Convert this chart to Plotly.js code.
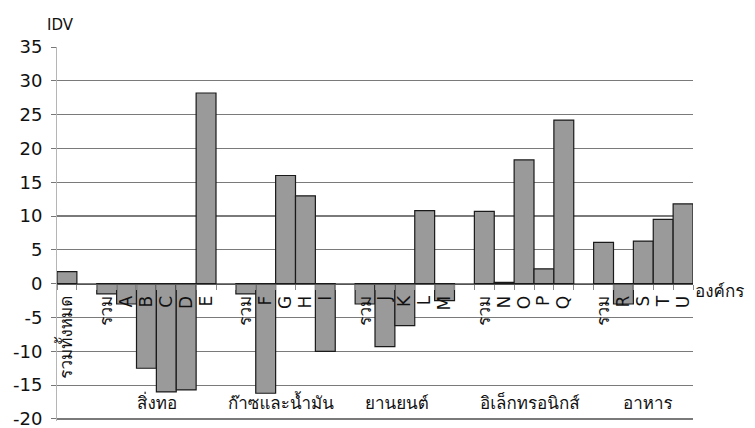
<!DOCTYPE html>
<html><head><meta charset="utf-8">
<script src="https://cdn.plot.ly/plotly-3.0.1.min.js"></script>
<style>body{margin:0;background:#fff}#c{width:755px;height:428px}</style>
</head><body><div id="c"></div>
<script>
const categories = ["รวมทั้งหมด","","รวม","A","B","C","D","E","","รวม","F","G","H","I","","รวม","J","K","L","M","","รวม","N","O","P","Q","","รวม","R","S","T","U"];
const idv = [1.8,null,-1.5,-3,-12.5,-16,-15.7,28.2,null,-1.5,-16.2,16,13,-10,null,-3,-9.3,-6.2,10.8,-2.5,null,10.7,0.2,18.3,2.2,24.2,null,6.1,-3,6.3,9.5,11.8];
const groups = ["สิ่งทอ","ก๊าซและน้ำมัน","ยานยนต์","อิเล็กทรอนิกส์","อาหาร"];
const yTicks = [-20,-15,-10,-5,0,5,10,15,20,25,30,35];
const yTitle = "IDV";
const xTitle = "องค์กร";

const FONT = "DejaVu Sans, Loma, Garuda, Waree, Norasi, Kinnari, Noto Sans Thai Looped, Noto Sans Thai, sans-serif";
const keys = categories.map((c,i)=>String(i));
const yRange = [yTicks[0]-0.3, yTicks[yTicks.length-1]];

// group spans: segments between empty slots (skip the overall bar)
const spans = [];
let start = null;
categories.forEach((c,i)=>{
  if (i===0) return;
  if (c==="") { if (start!==null){spans.push([start,i-1]); start=null;} }
  else if (start===null) start=i;
});
if (start!==null) spans.push([start,categories.length-1]);
const groupShift = [1, -5, -8, 6, 5];

const annotations = groups.map((g,k)=>({
  xref:'x', yref:'paper', x:(spans[k][0]+spans[k][1])/2, y:0.015, yanchor:'bottom',
  text:g, showarrow:false, xshift:groupShift[k], font:{family:FONT,size:17,color:'#111'}
}));
annotations.push({xref:'paper',yref:'paper',x:0,xshift:-12,y:1.04,xanchor:'left',yanchor:'bottom',yshift:-4,
  text:yTitle,showarrow:false,font:{family:FONT,size:15,color:'#111'}});
annotations.push({xref:'paper',yref:'y',x:1.0,y:0,xanchor:'left',yanchor:'middle',yshift:-7,
  text:xTitle,showarrow:false,font:{family:FONT,size:17,color:'#111'}});

const trace = {
  type:'bar', x:keys, y:idv,
  marker:{color:'#9a9a9a', line:{color:'#1a1a1a', width:1.2}},
  hoverinfo:'skip'
};

const layout = {
  width:755, height:428,
  margin:{l:57, r:62, t:47, b:7, pad:0},
  paper_bgcolor:'#fff', plot_bgcolor:'#fff',
  bargap:0, showlegend:false,
  font:{family:FONT, color:'#111'},
  xaxis:{
    type:'category', categoryorder:'array', categoryarray:keys,
    tickmode:'array', tickvals:keys, ticktext:categories,
    tickangle:-90, tickson:'boundaries', ticks:'outside', ticklen:5, tickcolor:'#888',
    ticklabelstandoff:4,
    showline:true, linecolor:'#555', linewidth:1.3, showgrid:false, zeroline:false,
    anchor:'free', position:(0-yRange[0])/(yRange[1]-yRange[0]),
    tickfont:{family:FONT,size:17,color:'#111'},
    range:[-0.5, categories.length-0.5], fixedrange:true
  },
  yaxis:{
    range:yRange, tickmode:'array', tickvals:yTicks, ticktext:yTicks.map(String),
    ticks:'outside', ticklen:5, tickcolor:'#777',
    showgrid:true, gridcolor:'#7a7a7a', gridwidth:1.2,
    showline:true, linecolor:'#b5b5b5', linewidth:1, zeroline:false,
    ticklabeloverflow:'allow',
    tickfont:{family:FONT,size:18,color:'#111'}, ticklabelstandoff:5
  },
  annotations:annotations
};
Plotly.newPlot('c',[trace],layout,{staticPlot:true});
</script></body></html>
